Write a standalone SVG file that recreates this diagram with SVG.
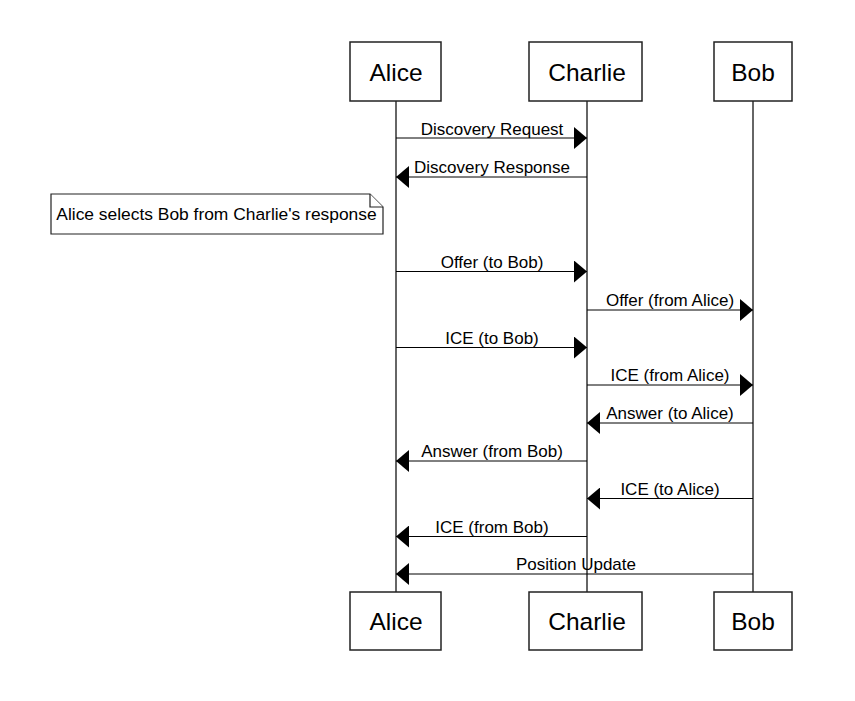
<svg xmlns="http://www.w3.org/2000/svg" width="855" height="701" viewBox="0 0 855 701">
<style>
.box{fill:#fff;stroke:#222;stroke-width:1.5}
.life{stroke:#333;stroke-width:1.5;fill:none}
.title{font-family:"Liberation Sans",Arial,sans-serif;font-size:24.5px;fill:#000;text-anchor:middle}
.lbl{font-family:"Liberation Sans",Arial,sans-serif;font-size:17px;fill:#000;text-anchor:middle}
.msg{stroke:#000;stroke-width:1;fill:none;marker-end:url(#ah)}
.note{fill:#fff;stroke:#222;stroke-width:1.2}
</style>
<defs>
<marker id="ah" viewBox="0 0 13 22" refX="13" refY="11" markerWidth="13" markerHeight="22" markerUnits="userSpaceOnUse" orient="auto">
<path d="M0,0 L13,11 L0,22 Z" fill="#000"/>
</marker>
</defs>
<rect width="855" height="701" fill="#fff"/>
<g id="lifelines">
<line class="life" x1="396" y1="101" x2="396" y2="592"/>
<line class="life" x1="587" y1="101" x2="587" y2="592"/>
<line class="life" x1="753" y1="101" x2="753" y2="592"/>
</g>
<g id="alice">
<rect class="box" x="350" y="42" width="91" height="59"/>
<text class="title" x="396" y="81">Alice</text>
<rect class="box" x="350" y="592" width="91" height="58"/>
<text class="title" x="396" y="630">Alice</text>
</g>
<g id="charlie">
<rect class="box" x="529" y="42" width="113" height="59"/>
<text class="title" x="587" y="81">Charlie</text>
<rect class="box" x="529" y="592" width="113" height="58"/>
<text class="title" x="587" y="630">Charlie</text>
</g>
<g id="bob">
<rect class="box" x="714" y="42" width="78" height="59"/>
<text class="title" x="753" y="81">Bob</text>
<rect class="box" x="714" y="592" width="78" height="58"/>
<text class="title" x="753" y="630">Bob</text>
</g>
<g id="note1">
<path class="note" d="M51,194 H370 L383,207 V234 H51 Z"/>
<path class="note" d="M370,194 V207 H383" fill="none"/>
<text class="lbl" x="216.5" y="220" style="font-size:17.4px">Alice selects Bob from Charlie's response</text>
</g>
<g id="connectors">
<line class="msg" x1="396" y1="138" x2="587" y2="138"/>
<text class="lbl" x="492" y="135">Discovery Request</text>
<line class="msg" x1="587" y1="177" x2="396" y2="177"/>
<text class="lbl" x="492" y="173">Discovery Response</text>
<line class="msg" x1="396" y1="271.5" x2="587" y2="271.5"/>
<text class="lbl" x="492" y="268">Offer (to Bob)</text>
<line class="msg" x1="587" y1="310" x2="753" y2="310"/>
<text class="lbl" x="670" y="306">Offer (from Alice)</text>
<line class="msg" x1="396" y1="347.5" x2="587" y2="347.5"/>
<text class="lbl" x="492" y="344">ICE (to Bob)</text>
<line class="msg" x1="587" y1="385" x2="753" y2="385"/>
<text class="lbl" x="670" y="381">ICE (from Alice)</text>
<line class="msg" x1="753" y1="423" x2="587" y2="423"/>
<text class="lbl" x="670" y="419">Answer (to Alice)</text>
<line class="msg" x1="587" y1="461" x2="396" y2="461"/>
<text class="lbl" x="492" y="457">Answer (from Bob)</text>
<line class="msg" x1="753" y1="498.5" x2="587" y2="498.5"/>
<text class="lbl" x="670" y="495">ICE (to Alice)</text>
<line class="msg" x1="587" y1="536.5" x2="396" y2="536.5"/>
<text class="lbl" x="492" y="533">ICE (from Bob)</text>
<line class="msg" x1="753" y1="574" x2="396" y2="574"/>
<text class="lbl" x="576" y="570">Position Update</text>
</g>
</svg>
